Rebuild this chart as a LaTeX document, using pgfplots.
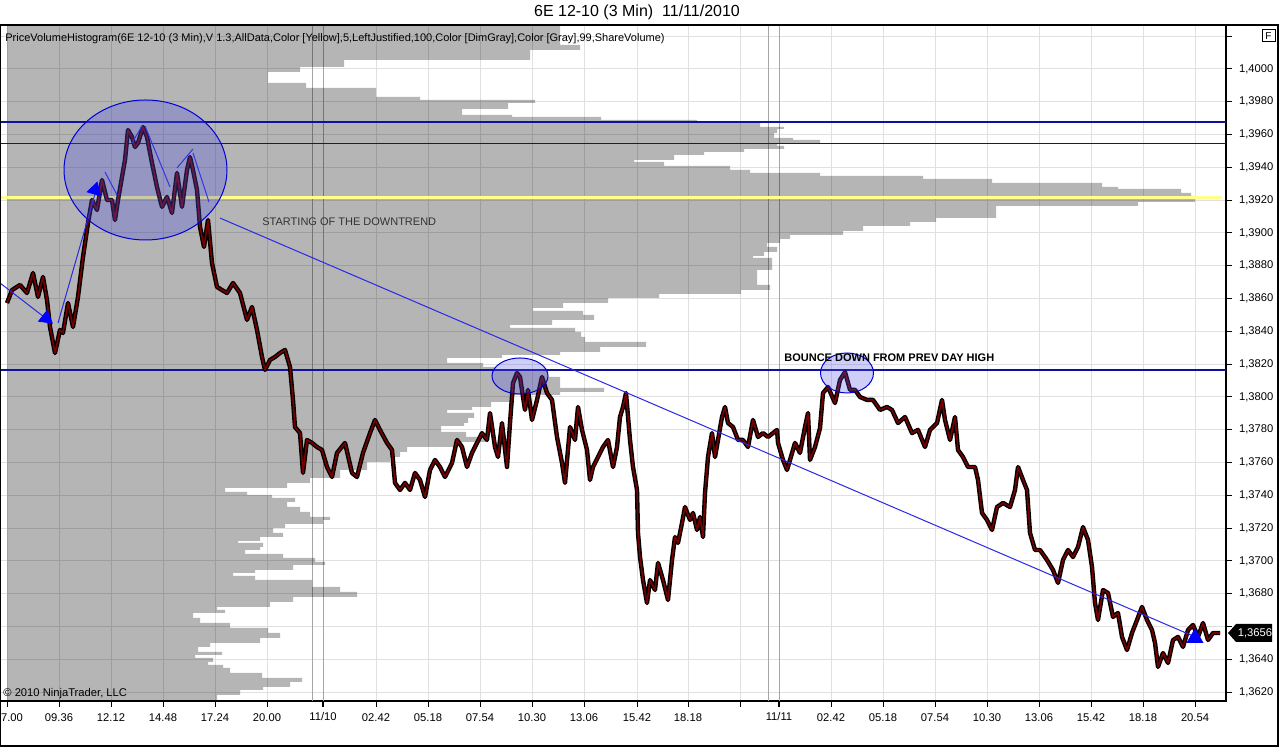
\documentclass[border=0pt]{standalone}
\usepackage{fontspec}
\setmainfont{Liberation Sans}
\usepackage{pgfplots}
\usepackage{pgfplotstable}
\pgfplotsset{compat=1.18}
\definecolor{navyline}{RGB}{16,16,160}
\definecolor{trend}{RGB}{40,40,230}
\definecolor{ellfill}{RGB}{80,80,230}
\definecolor{paleyellow}{RGB}{255,255,140}
\definecolor{candlered}{RGB}{120,0,0}

\pgfplotstableread{
x y
7 1.38573
12 1.38652
20 1.38683
27 1.38634
33 1.38756
38 1.38610
43 1.38732
47 1.38591
50 1.38427
55 1.38268
60 1.38409
63 1.38390
68 1.38573
73 1.38427
78 1.38610
83 1.38854
88 1.39061
92 1.39201
97 1.39140
102 1.39323
107 1.39201
112 1.39201
115 1.39079
118 1.39201
122 1.39341
125 1.39445
128 1.39628
132 1.39585
135 1.39524
138 1.39549
143 1.39646
147 1.39585
152 1.39427
157 1.39280
162 1.39159
167 1.39220
172 1.39122
177 1.39366
182 1.39159
187 1.39384
190 1.39463
193 1.39384
197 1.39262
200 1.39037
204 1.38915
208 1.39079
212 1.38817
217 1.38671
222 1.38652
227 1.38634
233 1.38695
240 1.38634
247 1.38470
252 1.38549
257 1.38409
262 1.38244
265 1.38165
270 1.38226
275 1.38244
280 1.38268
285 1.38287
290 1.38183
293 1.37982
295 1.37817
300 1.37780
303 1.37537
307 1.37738
312 1.37720
317 1.37695
322 1.37677
327 1.37573
332 1.37512
337 1.37659
345 1.37720
352 1.37537
357 1.37512
363 1.37659
370 1.37780
375 1.37860
380 1.37799
387 1.37720
392 1.37677
395 1.37476
400 1.37433
405 1.37476
410 1.37433
415 1.37537
420 1.37494
425 1.37390
430 1.37555
435 1.37616
440 1.37573
445 1.37512
452 1.37598
457 1.37738
462 1.37695
467 1.37573
472 1.37659
477 1.37720
482 1.37780
487 1.37738
490 1.37902
495 1.37695
498 1.37634
502 1.37841
507 1.37573
510 1.37841
513 1.38085
517 1.38146
520 1.38122
525 1.37921
528 1.38043
532 1.37860
537 1.37982
542 1.38122
547 1.38024
552 1.37982
557 1.37756
562 1.37598
565 1.37476
570 1.37817
575 1.37738
578 1.37939
582 1.37799
587 1.37677
590 1.37494
593 1.37573
598 1.37634
603 1.37695
608 1.37738
613 1.37573
617 1.37695
620 1.37878
623 1.37939
626 1.38024
630 1.37738
633 1.37573
637 1.37433
638 1.37171
640 1.37024
643 1.36884
647 1.36744
650 1.36884
655 1.36823
658 1.36988
663 1.36884
668 1.36762
672 1.37006
675 1.37146
678 1.37110
682 1.37232
685 1.37329
690 1.37250
693 1.37293
697 1.37189
700 1.37268
703 1.37146
705 1.37415
708 1.37634
712 1.37780
715 1.37634
718 1.37738
722 1.37878
725 1.37939
728 1.37841
733 1.37817
738 1.37738
743 1.37738
748 1.37695
753 1.37860
758 1.37756
763 1.37780
768 1.37756
773 1.37780
777 1.37799
778 1.37720
783 1.37616
787 1.37555
790 1.37616
795 1.37720
800 1.37659
805 1.37817
808 1.37902
810 1.37616
815 1.37695
820 1.37810
823 1.38024
828 1.38061
835 1.37963
840 1.38104
845 1.38152
850 1.38043
855 1.38043
860 1.38000
867 1.37982
873 1.37982
880 1.37921
887 1.37939
892 1.37921
898 1.37841
905 1.37878
912 1.37780
918 1.37799
925 1.37695
930 1.37799
937 1.37841
942 1.37982
945 1.37860
950 1.37738
955 1.37878
958 1.37677
963 1.37634
968 1.37573
975 1.37573
978 1.37494
982 1.37293
987 1.37250
992 1.37189
997 1.37329
1003 1.37354
1010 1.37329
1015 1.37433
1018 1.37573
1023 1.37494
1027 1.37433
1030 1.37171
1035 1.37067
1040 1.37067
1047 1.37006
1053 1.36945
1058 1.36866
1063 1.37006
1068 1.37067
1073 1.37024
1078 1.37085
1083 1.37207
1088 1.37128
1092 1.36963
1095 1.36744
1098 1.36640
1103 1.36823
1108 1.36805
1113 1.36659
1118 1.36683
1122 1.36537
1127 1.36457
1132 1.36561
1137 1.36640
1142 1.36720
1147 1.36640
1152 1.36579
1155 1.36500
1158 1.36354
1163 1.36439
1168 1.36378
1173 1.36518
1178 1.36537
1183 1.36476
1188 1.36579
1193 1.36610
1198 1.36537
1203 1.36622
1208 1.36518
1213 1.36561
1220 1.36561
}\price

\pgfplotstableread{
L y
7 1.402683
560 1.402683
580 1.401463
530 1.401159
344 1.400549
300 1.400122
268 1.399817
306 1.399146
376 1.398841
420 1.398293
535 1.398110
508 1.397927
462 1.397561
512 1.397195
601 1.397073
697 1.396890
760 1.396707
784 1.396463
777 1.396341
774 1.396098
793 1.395793
820 1.395671
777 1.395488
784 1.395305
744 1.395122
704 1.394939
674 1.394756
634 1.394451
664 1.394329
730 1.394085
750 1.393841
820 1.393659
923 1.393476
992 1.393293
1102 1.393049
1118 1.392805
1181 1.392683
1191 1.392439
1195 1.392256
1138 1.391890
996 1.391646
936 1.390915
910 1.390671
863 1.390427
843 1.390122
790 1.389878
780 1.389634
767 1.389390
777 1.389146
764 1.388841
753 1.388598
772 1.388476
757 1.387744
770 1.386829
741 1.386524
659 1.386280
608 1.386037
563 1.385732
533 1.385427
583 1.385244
594 1.385000
552 1.384695
510 1.384390
575 1.384207
581 1.383963
585 1.383659
646 1.383354
600 1.383049
560 1.382744
502 1.382561
447 1.382378
483 1.382073
495 1.381829
548 1.381646
560 1.381220
604 1.380549
560 1.380305
512 1.380122
491 1.379695
472 1.379390
447 1.379207
474 1.379024
468 1.378720
464 1.378415
441 1.378232
466 1.377866
487 1.377561
456 1.377256
407 1.376951
400 1.376646
390 1.376341
367 1.376037
340 1.375549
310 1.375061
287 1.374756
225 1.374451
247 1.374207
272 1.374024
295 1.373841
287 1.373598
300 1.373293
310 1.372988
330 1.372683
323 1.372500
285 1.372256
273 1.372012
283 1.371707
260 1.371463
238 1.371220
263 1.371098
260 1.370854
245 1.370671
283 1.370427
315 1.370183
325 1.369939
293 1.369756
255 1.369451
233 1.369268
255 1.369085
312 1.368841
340 1.368415
357 1.368110
293 1.367805
270 1.367500
217 1.367195
225 1.367012
193 1.366829
200 1.366524
230 1.366220
268 1.365915
280 1.365610
260 1.365305
210 1.365000
198 1.364756
222 1.364451
195 1.364268
213 1.364085
208 1.363841
223 1.363659
230 1.363476
262 1.363171
302 1.362866
290 1.362622
263 1.362317
240 1.362134
217 1.361829
7 1.361463
}\hist

\newcommand\tf{\fontsize{5.6}{6.5}\selectfont}

\begin{document}
\begin{tikzpicture}
\useasboundingbox (0pt,-23pt) rectangle (640pt,350.5pt);
\begin{axis}[
  at={(0pt,0pt)}, anchor=south west,
  scale only axis, width=613pt, height=338pt,
  xmin=0, xmax=1226, ymin=1.361463, ymax=1.402683,
  axis line style={black, line width=0.6pt},
  xtick={7,59,111,163,215,267,376,428,480,532,584,637,688,740,831,883,935,987,1039,1091,1143,1195},
  xticklabels={\hspace*{5pt}7.00,09.36,12.12,14.48,17.24,20.00,02.42,05.18,07.54,10.30,13.06,15.42,18.18,,02.42,05.18,07.54,10.30,13.06,15.42,18.18,20.54},
  extra x ticks={323,779},
  extra x tick labels={11/10,11/11},
  extra x tick style={grid=none, major tick style={line width=1.2pt}, xticklabel style={yshift=0.6pt}},
  ytick={1.362,1.364,1.366,1.368,1.370,1.372,1.374,1.376,1.378,1.380,1.382,1.384,1.386,1.388,1.390,1.392,1.394,1.396,1.398,1.400,1.402},
  yticklabels={{1,3620},{1,3640},{},{1,3680},{1,3700},{1,3720},{1,3740},{1,3760},{1,3780},{1,3800},{1,3820},{1,3840},{1,3860},{1,3880},{1,3900},{1,3920},{1,3940},{1,3960},{1,3980},{1,4000},{}},
  xtick pos=bottom, ytick pos=right, yticklabel pos=right,
  tick align=outside, major tick length=3pt,
  tick style={black, line width=0.5pt},
  grid=major, major grid style={line width=0.5pt, color=black!12},
  scaled y ticks=false,
  yticklabel style={font=\tf},
  xticklabel style={font=\tf},
  clip=true,
]
% session separators
\addplot[black!35, line width=0.5pt] coordinates {(312,1.361463) (312,1.402683)};
\addplot[black!35, line width=0.5pt] coordinates {(323,1.361463) (323,1.402683)};
\addplot[black!35, line width=0.5pt] coordinates {(768,1.361463) (768,1.402683)};
\addplot[black!35, line width=0.5pt] coordinates {(779,1.361463) (779,1.402683)};
% volume profile
\addplot[draw=none, fill=black, fill opacity=0.29, const plot mark right] table[x=L, y=y] {\hist} -- cycle;
% horizontal levels
\addplot[paleyellow, line width=1.8pt] coordinates {(0,1.392175) (1222,1.392175)};
\addplot[navyline, line width=0.6pt] coordinates {(0,1.39677) (1226,1.39677)};
\addplot[navyline, line width=0.6pt] coordinates {(0,1.39546) (1226,1.39546)};
\addplot[navyline, line width=0.6pt] coordinates {(0,1.381646) (1226,1.381646)};
% price
\addplot[black, line width=2.2pt, line join=round] table[x=x, y=y] {\price};
\addplot[candlered, line width=0.8pt, line join=round] table[x=x, y=y] {\price};
% trend lines
\addplot[trend, line width=0.5pt] coordinates {(220,1.39091) (1200,1.365244)};
\addplot[trend, line width=0.5pt] coordinates {(0,1.386951) (48,1.384695)};
\addplot[trend, line width=0.5pt] coordinates {(58,1.384512) (97,1.392805)};
\addplot[trend, line width=0.5pt] coordinates {(105,1.393720) (117,1.392317)};
\addplot[trend, line width=0.5pt] coordinates {(132,1.395488) (142,1.396524)};
\addplot[trend, line width=0.5pt] coordinates {(145,1.396524) (170,1.392805)};
\addplot[trend, line width=0.5pt] coordinates {(177,1.393963) (193,1.395122)};
\addplot[trend, line width=0.5pt] coordinates {(193,1.394878) (209,1.391890)};
% arrow heads
\addplot[only marks, mark=triangle*, mark size=4pt, color=blue, mark options={rotate=-128}] coordinates {(46,1.384800)};
\addplot[only marks, mark=triangle*, mark size=4pt, color=blue, mark options={rotate=-16}] coordinates {(95,1.392622)};
\addplot[only marks, mark=triangle*, mark size=4.5pt, color=blue] coordinates {(1195,1.365305)};
% ellipses
\draw[blue!85!black, line width=0.5pt, fill=ellfill, fill opacity=0.3] (axis cs:145.5,1.393841) ellipse [x radius=40.75pt, y radius=35pt];
\draw[blue!85!black, line width=0.5pt, fill=ellfill, fill opacity=0.28] (axis cs:520,1.381280) ellipse [x radius=14pt, y radius=9pt];
\draw[blue!85!black, line width=0.5pt, fill=ellfill, fill opacity=0.28] (axis cs:847,1.381463) ellipse [x radius=13.25pt, y radius=10pt];
\end{axis}
% texts and frame
\draw[black, line width=0.6pt] (0.3pt,338pt) rectangle (639pt,-22.5pt);
\node[anchor=center] at (318.5pt,344.5pt) {\fontsize{8}{9.5}\selectfont 6E 12-10 (3 Min)\ \ 11/11/2010};
\node[anchor=west, inner sep=0pt] at (2.5pt,331pt) {\fontsize{5.5}{6.5}\selectfont PriceVolumeHistogram(6E 12-10 (3 Min),V 1.3,AllData,Color [Yellow],5,LeftJustified,100,Color [DimGray],Color [Gray],99,ShareVolume)};
\node[anchor=west, inner sep=0pt] at (1.5pt,3.5pt) {\fontsize{5.6}{6.5}\selectfont © 2010 NinjaTrader, LLC};
\node[anchor=west, inner sep=0pt, text=black!80] at (131pt,239.5pt) {\fontsize{5.5}{6.5}\selectfont STARTING OF THE DOWNTREND};
\node[anchor=west, inner sep=0pt] at (392pt,171.5pt) {\fontsize{5.5}{6.5}\selectfont\bfseries BOUNCE DOWN FROM PREV DAY HIGH};
\fill[black] (614pt,34pt) -- (618pt,38.5pt) -- (636pt,38.5pt) -- (636pt,29.5pt) -- (618pt,29.5pt) -- cycle;
\node[text=white, inner sep=0pt] at (627.5pt,34pt) {\tf 1,3656};
\draw[black, line width=0.5pt] (631pt,335.5pt) rectangle (637.5pt,329.5pt);
\node[inner sep=0pt] at (634.25pt,332.5pt) {\fontsize{5}{6}\selectfont F};
\end{tikzpicture}
\end{document}
